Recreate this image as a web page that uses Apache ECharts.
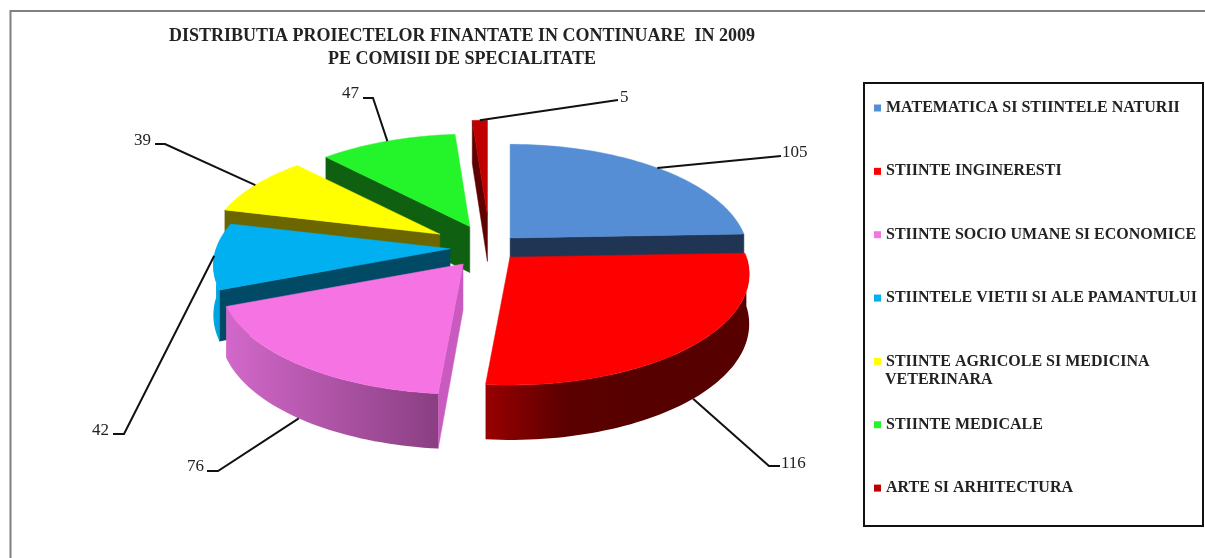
<!DOCTYPE html>
<html><head><meta charset="utf-8">
<style>html,body{margin:0;padding:0;background:#fff}#c{width:1205px;height:558px;filter:blur(0.7px)}</style>
<script src="https://cdn.jsdelivr.net/npm/echarts@6/dist/echarts.min.js"></script>
</head><body><div id="c"></div>
<script>
const categories = ['MATEMATICA SI STIINTELE NATURII','STIINTE INGINERESTI','STIINTE SOCIO UMANE SI ECONOMICE','STIINTELE VIETII SI ALE PAMANTULUI','STIINTE AGRICOLE SI MEDICINA VETERINARA','STIINTE MEDICALE','ARTE SI ARHITECTURA'];
const values = [105,116,76,42,39,47,5];
const titleText = 'DISTRIBUTIA PROIECTELOR FINANTATE IN CONTINUARE  IN 2009\nPE COMISII DE SPECIALITATE';

const topColors  = ['#558ed5','#ff0000','#f673e3','#00b0f0','#ffff00','#24f52a','#c00000'];
const faceColors = ['#1f3553','#600000','#c85ac0','#004a66','#6b6600','#0f6010','#600000'];
const rimColors  = [
  ['#1f3553','#1f3553'],
  ['#980000','#5c0000','#560000','#560000'],
  ['#d268ca','#8a3f82'],
  ['#00a4e0','#00a4e0'],
  ['#6b6600','#6b6600'],['#0f6010','#0f6010'],['#600000','#600000']];
const explode = [29,29,45,40,58,50,70];
const radiusScale = [0.98,0.985,1,0.975,0.955,0.965,1];
const drawOrder = [6,5,4,3,0,1,2];
const leaders = [
  {pts:[[781,156]],            lab:[782,153,'left']},
  {pts:[[769,466],[780,466]],  lab:[781,464,'left']},
  {pts:[[218,471],[207,471]],  lab:[204,467,'right']},
  {pts:[[124,434],[113,434]],  lab:[109,431,'right']},
  {pts:[[165,144],[155,144]],  lab:[151,141,'right']},
  {pts:[[373,98],[363,98]],    lab:[359,94,'right']},
  {pts:[[618,100]],            lab:[620,98,'left']}
];

const CX=490, CY=247.5, R=240, RY=110, K=0.155, DEPTH=49, DEPTH_F=6, APEX_DEPTH=46;
const total = values.reduce((a,b)=>a+b,0);
const rad = d=>d*Math.PI/180;
let acc=0;
const spans = values.map(v=>{const a0=acc/total*360; acc+=v; return [a0,acc/total*360];});

function project(ax,ay,deg,r,down){
  const sn=Math.sin(rad(deg)), cs=Math.cos(rad(deg));
  const Y=-cs*r, s=1/(1-K*Y);
  const d=down?(DEPTH+DEPTH_F*Y):0;
  return [ax+R*r*sn*s, ay+RY*Y*s+d];
}
function apexOf(i){
  const m=(spans[i][0]+spans[i][1])/2, e=explode[i];
  return [CX+e*Math.sin(rad(m)), CY-e*Math.cos(rad(m))*RY/R];
}
function arc(ax,ay,a0,a1,down,r){
  const n=Math.max(2,Math.ceil(Math.abs(a1-a0)/1.5)), out=[];
  for(let j=0;j<=n;j++) out.push(project(ax,ay,a0+(a1-a0)*j/n,r,down));
  return out;
}
function hgrad(stops){
  return {type:'linear',x:0,y:0,x2:1,y2:0,colorStops:stops.map((c,k)=>({offset:k===0?0:(stops.length===4?[0,.3,.6,1][k]:k/(stops.length-1)),color:c}))};
}
function wallPoly(ax,ay,deg,r){
  const o=[ax,ay], p=project(ax,ay,deg,r,false), q=project(ax,ay,deg,r,true);
  return [o,p,q,[ax,ay+APEX_DEPTH]];
}
function renderSlice(i){
  return function(params,api){
    api.value(0);
    const [a0,a1]=spans[i], [ax,ay]=apexOf(i), kids=[], r=radiusScale[i];
    const poly=(points,fill,stroke)=>kids.push({type:'polygon',shape:{points},style:{fill,stroke:stroke||fill,lineWidth:0.5}});
    if(Math.cos(rad(a0-90))<-0.01) poly(wallPoly(ax,ay,a0,r),faceColors[i]);
    if(Math.cos(rad(a1+90))<-0.01) poly(wallPoly(ax,ay,a1,r),faceColors[i]);
    const f0=Math.max(a0,90), f1=Math.min(a1,270);
    if(f1>f0){
      const t=arc(ax,ay,f0,f1,false,r), b=arc(ax,ay,f1,f0,true,r);
      kids.push({type:'polygon',shape:{points:t.concat(b)},style:{fill:hgrad(rimColors[i]),stroke:null}});
    }
    poly([[ax,ay]].concat(arc(ax,ay,a0,a1,false,r)),topColors[i]);
    const m=(a0+a1)/2, L=leaders[i];
    const start=project(ax,ay,m,r,Math.cos(rad(m))<-0.3);
    kids.push({type:'polyline',shape:{points:[start].concat(L.pts)},style:{stroke:'#111',lineWidth:2,fill:null}});
    kids.push({type:'text',style:{x:L.lab[0],y:L.lab[1],text:String(values[i]),textAlign:L.lab[2],textVerticalAlign:'middle',fill:'#222',font:'17px "Liberation Serif"'}});
    return {type:'group',children:kids};
  };
}
const chart=echarts.init(document.getElementById('c'),null,{renderer:'canvas'});
chart.setOption({
  animation:false,
  backgroundColor:'#fff',
  title:{text:titleText,left:457,top:20,textAlign:'center',
    textStyle:{fontFamily:'Liberation Serif',fontWeight:'bold',fontSize:18,lineHeight:23,color:'#222'}},
  legend:{orient:'vertical',left:874,top:100,padding:0,itemWidth:7,itemHeight:7,itemGap:47.35,icon:'rect',
    data:categories,selectedMode:false,
    formatter:n=>n.replace(' VETERINARA',''),
    textStyle:{fontFamily:'Liberation Serif',fontWeight:'bold',fontSize:16,height:16,lineHeight:16,color:'#222'}},
  graphic:[
    {type:'polyline',shape:{points:[[10.5,558],[10.5,11],[1205,11]]},style:{stroke:'#808080',lineWidth:2,fill:null},z:0},
    {type:'rect',shape:{x:864,y:83,width:339,height:443},style:{stroke:'#111',lineWidth:2,fill:'#fff'},z:0},
    {type:'text',style:{x:885,y:380,text:'VETERINARA',textVerticalAlign:'middle',fill:'#222',font:'bold 16px "Liberation Serif"'},z:5}
  ],
  series:categories.map((name,i)=>({
    type:'custom',name,coordinateSystem:'none',silent:true,
    z:2+drawOrder.indexOf(i),
    itemStyle:{color:topColors[i]},
    data:[[values[i]]],
    renderItem:renderSlice(i)
  }))
});
</script></body></html>
